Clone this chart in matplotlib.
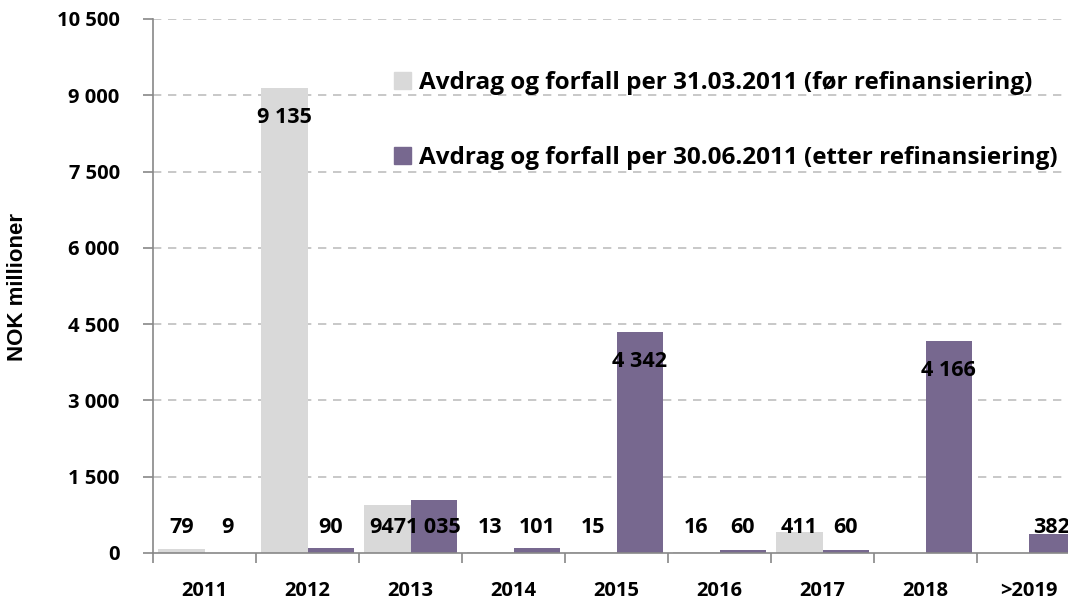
import matplotlib.pyplot as plt
import numpy as np
from matplotlib.patches import Patch

# Data
kategorier = ['2011', '2012', '2013', '2014', '2015', '2016', '2017', '2018', '>2019']
foer = [79, 9135, 947, 13, 15, 16, 411, 0, 0]
etter = [9, 90, 1035, 101, 4342, 60, 60, 4166, 382]
navn_foer = 'Avdrag og forfall per 31.03.2011 (før refinansiering)'
navn_etter = 'Avdrag og forfall per 30.06.2011 (etter refinansiering)'
yticks = [0, 1500, 3000, 4500, 6000, 7500, 9000, 10500]

grå = '#D9D9D9'
lilla = '#77688F'

plt.rcParams['font.family'] = ['Open Sans', 'DejaVu Sans']
plt.rcParams['font.weight'] = 'bold'


def fmt(v):
    return f"{v:,}".replace(',', ' ')


W, H = 1068, 607
fig = plt.figure(figsize=(W / 100, H / 100), dpi=100)
# akse fra x=153 til 1080 (beskåret i originalen), y fra 19 til 553
aw = 1080 - 153
ax = fig.add_axes([153 / W, 1 - 553 / H, aw / W, (553 - 19) / H])

x = np.arange(len(kategorier))
bw = 0.45
ax.bar(x - bw / 2, foer, bw, color=grå, zorder=2)
ax.bar(x + bw / 2, etter, bw, color=lilla, zorder=2)

# dataetiketter
for xs, vals in [(x - bw / 2, foer), (x + bw / 2, etter)]:
    for xi, v in zip(xs, vals):
        if v == 0:
            continue
        y = max(v - 580, 510)
        ax.text(xi, y, fmt(v), ha='center', va='center', fontsize=15.5,
                fontweight='bold', zorder=3)

ax.set_xlim(-0.5, len(kategorier) - 0.5)
ax.set_ylim(0, 10500)
ax.set_yticks(yticks)
ax.set_yticklabels([fmt(t) for t in yticks], fontsize=14.5, fontweight='bold')
ax.set_xticks(x)
ax.set_xticklabels(kategorier, fontsize=14.5, fontweight='bold')
ax.set_xticks(np.arange(len(kategorier) + 1) - 0.5, minor=True)
ax.tick_params(axis='x', which='major', length=0, pad=20)
ax.tick_params(axis='x', which='minor', length=7, color='#888888', width=1.2)
ax.tick_params(axis='y', length=7, color='#888888', width=1.2, pad=17)

for t in yticks[1:]:
    ax.axhline(t, color='#BFBFBF', lw=1.2, ls=(0, (5, 4)), zorder=1)

for s in ['top', 'right']:
    ax.spines[s].set_visible(False)
for s in ['left', 'bottom']:
    ax.spines[s].set_color('#888888')
    ax.spines[s].set_linewidth(1.2)

ax.set_ylabel('NOK millioner', fontsize=16, fontweight='bold', labelpad=0,
              family=['Liberation Sans', 'DejaVu Sans'])
ax.yaxis.set_label_coords((28 - 153) / aw, (553 - 287) / (553 - 19))

handles = [Patch(color=grå), Patch(color=lilla)]
fig.legend(handles, [navn_foer, navn_etter], loc='upper left',
           bbox_to_anchor=(372 / W, 1 - 49 / H), frameon=False,
           prop={'size': 17.5, 'weight': 'bold'}, handlelength=0.72,
           handleheight=0.72, handletextpad=0.3, labelspacing=2.1)

fig.savefig('out.png', dpi=100)
